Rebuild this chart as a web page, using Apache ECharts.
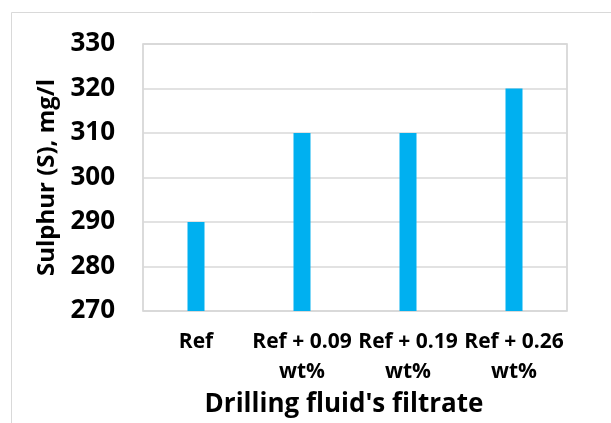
<!DOCTYPE html>
<html><head><meta charset="utf-8">
<script src="https://cdn.jsdelivr.net/npm/echarts@6/dist/echarts.min.js"></script>
<style>html,body{margin:0;padding:0;background:#fff}#c{width:611px;height:423px}</style>
</head><body><div id="c"></div>
<script>
const categories = ["Ref", "Ref + 0.09\nwt%", "Ref + 0.19\nwt%", "Ref + 0.26\nwt%"];
const sulphur = [290, 310, 310, 320];
const yTicks = {min: 270, max: 330, interval: 10};
const xTitle = "Drilling fluid's filtrate";
const yTitle = "Sulphur (S), mg/l";

const chart = echarts.init(document.getElementById('c'), null, {renderer: 'canvas'});
const F = '"Open Sans", sans-serif';
chart.setOption({
  animation: false,
  backgroundColor: '#fff',
  graphic: [{type: 'rect', shape: {x: 11.5, y: 12.5, width: 700, height: 500}, style: {fill: 'none', stroke: '#d9d9d9', lineWidth: 1}, silent: true}],
  grid: {left: 143, top: 44, width: 424, height: 267, show: true, borderColor: '#cfcfcf', borderWidth: 1.5},
  xAxis: {
    type: 'category', data: categories,
    axisLine: {show: false}, axisTick: {show: false},
    axisLabel: {interval: 0, fontFamily: F, fontWeight: 'bold', fontSize: 21, color: '#000', lineHeight: 30, margin: 16},
    name: xTitle, nameLocation: 'middle', nameGap: 79,
    nameTextStyle: {fontFamily: F, fontWeight: 'bold', fontSize: 26, color: '#000', padding: [0, 22, 0, 0]}
  },
  yAxis: {
    type: 'value', min: yTicks.min, max: yTicks.max, interval: yTicks.interval,
    axisLine: {show: false}, axisTick: {show: false},
    splitLine: {lineStyle: {color: '#d9d9d9', width: 1.5}},
    axisLabel: {fontFamily: F, fontWeight: 'bold', fontSize: 26, color: '#000', margin: 28},
    name: yTitle, nameLocation: 'middle', nameGap: 82,
    nameTextStyle: {fontFamily: F, fontWeight: 'bold', fontSize: 24, color: '#000'}
  },
  series: [{type: 'bar', data: sulphur, barWidth: 17, itemStyle: {color: '#00B0F0'}}]
});
</script></body></html>
